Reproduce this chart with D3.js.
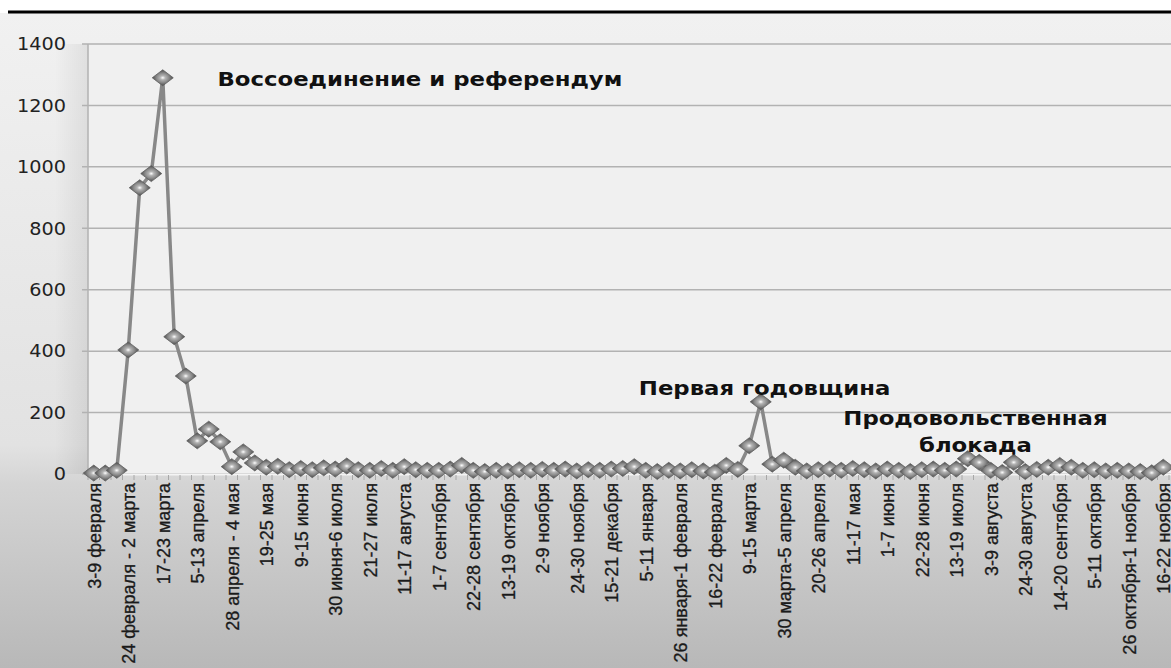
<!DOCTYPE html>
<html><head><meta charset="utf-8">
<script src="https://cdn.jsdelivr.net/npm/d3@7"></script>
<style>html,body{margin:0;padding:0;background:#fff;overflow:hidden}</style>
</head><body>
<svg id="chart" width="1171" height="668"></svg>
<script>
const categories = [
"3-9 февраля","10-16 февраля","17-23 февраля","24 февраля - 2 марта","3-9 марта","10-16 марта",
"17-23 марта","24-30 марта","31 марта-6 апреля","5-13 апреля","14-20 апреля","21-27 апреля",
"28 апреля - 4 мая","5-11 мая","12-18 мая","19-25 мая","26 мая-1 июня","2-8 июня",
"9-15 июня","16-22 июня","23-29 июня","30 июня-6 июля","7-13 июля","14-20 июля",
"21-27 июля","28 июля-3 августа","4-10 августа","11-17 августа","18-24 августа","25-31 августа",
"1-7 сентября","8-14 сентября","15-21 сентября","22-28 сентября","29 сентября-5 октября","6-12 октября",
"13-19 октября","20-26 октября","27 октября-2 ноября","2-9 ноября","10-16 ноября","17-23 ноября",
"24-30 ноября","1-7 декабря","8-14 декабря","15-21 декабря","22-28 декабря","29 декабря-4 января",
"5-11 января","12-18 января","19-25 января","26 января-1 февраля","2-8 февраля","9-15 февраля",
"16-22 февраля","23 февраля-1 марта","2-8 марта","9-15 марта","16-22 марта","23-29 марта",
"30 марта-5 апреля","6-12 апреля","13-19 апреля","20-26 апреля","27 апреля-3 мая","4-10 мая",
"11-17 мая","18-24 мая","25-31 мая","1-7 июня","8-14 июня","15-21 июня",
"22-28 июня","29 июня-5 июля","6-12 июля","13-19 июля","20-26 июля","27 июля-2 августа",
"3-9 августа","10-16 августа","17-23 августа","24-30 августа","31 августа-6 сентября","7-13 сентября",
"14-20 сентября","21-27 сентября","28 сентября-4 октября","5-11 октября","12-18 октября","19-25 октября",
"26 октября-1 ноября","2-8 ноября","9-15 ноября","16-22 ноября"
];
const values = [
3,3,12,404,932,978,
1290,447,319,108,146,105,
24,72,36,22,25,14,
18,14,20,16,26,14,
12,18,12,24,14,12,
12,16,28,12,8,12,
10,14,12,15,12,16,
10,14,12,16,18,24,
12,8,12,10,14,10,
6,28,15,92,235,32,
45,22,10,14,16,12,
18,14,10,16,12,8,
14,16,12,16,50,38,
12,5,38,8,15,22,
28,22,12,14,10,12,
10,8,4,22
];
const yTicks = [0,200,400,600,800,1000,1200,1400];
const annotations = [
  {lines:["Воссоединение и референдум"], at:10.76, v:1263, anchor:"start"},
  {lines:["Первая годовщина"], at:47.4, v:257, anchor:"start"},
  {lines:["Продовольственная","блокада"], at:76.67, v:160, anchor:"middle"}
];

(function(){
const svg = d3.select("#chart");
const W = 1171, H = 668;
const pL = 88, pR = 1169, pT = 44, pB = 474;

const defs = svg.append("defs");
const bg = defs.append("linearGradient").attr("id","bg").attr("x1",0).attr("y1",0).attr("x2",0).attr("y2",1);
bg.append("stop").attr("offset","0").attr("stop-color","#f1f1f1");
bg.append("stop").attr("offset","0.66").attr("stop-color","#e2e2e2");
bg.append("stop").attr("offset","0.72").attr("stop-color","#d4d4d4");
bg.append("stop").attr("offset","1").attr("stop-color","#b8b8b8");
const sh = defs.append("linearGradient").attr("id","sh").attr("x1",0).attr("y1",0).attr("x2",1).attr("y2",0);
sh.append("stop").attr("offset","0").attr("stop-color","#000").attr("stop-opacity",0);
sh.append("stop").attr("offset","1").attr("stop-color","#000").attr("stop-opacity",0.07);
const mk = defs.append("radialGradient").attr("id","mk").attr("cx","50%").attr("cy","50%").attr("r","50%");
mk.append("stop").attr("offset","0").attr("stop-color","#ffffff");
mk.append("stop").attr("offset","0.25").attr("stop-color","#b4b4b4");
mk.append("stop").attr("offset","0.6").attr("stop-color","#888888");
mk.append("stop").attr("offset","1").attr("stop-color","#4a4a4a");

svg.append("rect").attr("x",0).attr("y",0).attr("width",W).attr("height",H).attr("fill","#fff");
svg.append("rect").attr("x",0).attr("y",13).attr("width",W).attr("height",H-13).attr("fill","url(#bg)");
svg.append("rect").attr("x",55).attr("y",pT).attr("width",pL-55).attr("height",pB-pT).attr("fill","url(#sh)");
svg.append("line").attr("x1",8).attr("x2",W).attr("y1",12).attr("y2",12).attr("stroke","#000").attr("stroke-width",3);

const x = d3.scaleBand().domain(d3.range(categories.length)).range([pL,pR]).paddingInner(0).paddingOuter(0);
const y = d3.scaleLinear().domain([0,1400]).range([pB,pT]);
const xi = i => x(0) + x.bandwidth()*(i+0.5);

svg.append("rect").attr("x",pL).attr("y",pT).attr("width",pR-pL+2).attr("height",pB-pT).attr("fill","#f0f0f0");

svg.append("g").selectAll("line").data(yTicks).join("line")
  .attr("x1",pL-6).attr("x2",W).attr("y1",d=>y(d)).attr("y2",d=>y(d))
  .attr("stroke","#b2b2b2").attr("stroke-width",1.5);
svg.append("line").attr("x1",pL).attr("x2",pL).attr("y1",pT).attr("y2",pB).attr("stroke","#b2b2b2").attr("stroke-width",1.5);
svg.append("g").selectAll("text").data(yTicks).join("text")
  .attr("transform",d=>`translate(66,${y(d)}) scale(1.1,1)`)
  .attr("text-anchor","end").attr("dy","0.36em")
  .attr("font-family","DejaVu Sans").attr("font-size",17.5).attr("fill","#222")
  .text(d=>d);

svg.append("line").attr("x1",pL).attr("x2",W).attr("y1",pB+0.5).attr("y2",pB+0.5).attr("stroke","#f4f4f4").attr("stroke-width",2);
svg.append("g").selectAll("line").data(d3.range(categories.length+1)).join("line")
  .attr("x1",i=>x(0)+x.bandwidth()*i).attr("x2",i=>x(0)+x.bandwidth()*i)
  .attr("y1",pB+1).attr("y2",pB+6).attr("stroke","#a8a8a8").attr("stroke-width",1);
svg.append("g").selectAll("text").data(categories.map((c,i)=>({c,i})).filter(d=>d.i%3===0)).join("text")
  .attr("transform",d=>`translate(${xi(d.i)+1},483) rotate(-90) scale(1.03,1)`)
  .attr("text-anchor","end").attr("dy","0.35em")
  .attr("font-family","Liberation Sans, Arial").attr("font-size",17.5).attr("fill","#1a1a1a")
  .attr("stroke","#1a1a1a").attr("stroke-width",0.3)
  .text(d=>d.c);

const line = d3.line().x((d,i)=>xi(i)).y(d=>y(d));
svg.append("path").datum(values).attr("d",line).attr("fill","none").attr("stroke","#888").attr("stroke-width",3.5).attr("stroke-linejoin","round");

const mw = 10.5, mh = 8;
svg.append("g").selectAll("path").data(values).join("path")
  .attr("d",(d,i)=>{const cx=xi(i), cy=y(d); return `M${cx-mw},${cy} L${cx},${cy-mh} L${cx+mw},${cy} L${cx},${cy+mh} Z`;})
  .attr("fill","url(#mk)").attr("stroke","#606060").attr("stroke-width",0.8);

const ag = svg.append("g");
annotations.forEach(a=>{
  const t = ag.append("text")
    .attr("transform",`translate(${xi(a.at)},${y(a.v)}) scale(1.2,1)`)
    .attr("text-anchor",a.anchor)
    .attr("font-family","DejaVu Sans").attr("font-weight","bold").attr("font-size",19).attr("fill","#111");
  a.lines.forEach((l,k)=>t.append("tspan").attr("x",0).attr("dy",k===0?0:"1.42em").text(l));
});
})();
</script>
</body></html>
